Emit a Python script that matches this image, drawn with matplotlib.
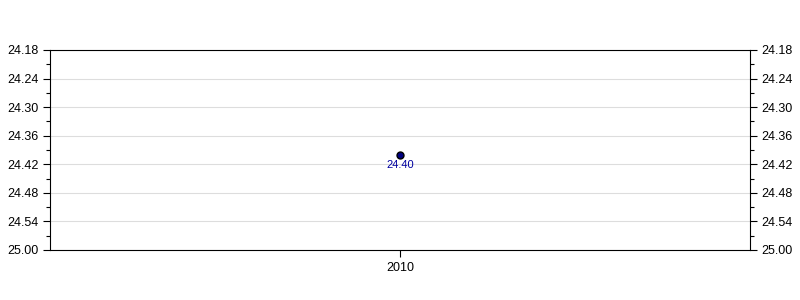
import matplotlib
matplotlib.use("Agg")
import matplotlib.pyplot as plt
from matplotlib.ticker import FixedLocator

plt.rcParams["font.family"] = ["Liberation Sans", "DejaVu Sans"]

# Dados
years = ["2010"]
values = [24.40]
y_ticks = [24.18, 24.24, 24.30, 24.36, 24.42, 24.48, 24.54, 24.60]
y_labels = ["24.18", "24.24", "24.30", "24.36", "24.42", "24.48", "24.54", "25.00"]
y_minor = [24.21, 24.27, 24.33, 24.39, 24.45, 24.51, 24.57]

fig = plt.figure(figsize=(8, 3), dpi=100)
ax = fig.add_axes([0.0625, 1 / 6, 0.875, 2 / 3])

x = list(range(len(years)))
ax.plot(x, values, "o", color="#000080", markeredgecolor="black", markersize=5, zorder=3)
for xi, v in zip(x, values):
    ax.annotate(f"{v:.2f}", (xi, v), xytext=(0, -4), textcoords="offset points",
                ha="center", va="top", fontsize=8, color="#0000a0")

ax.set_xlim(-1, 1)
ax.set_ylim(24.60, 24.18)  # eixo invertido
ax.set_xticks(x)
ax.set_xticklabels(years, fontsize=9)
ax.set_yticks(y_ticks)
ax.set_yticklabels(y_labels, fontsize=9)
ax.yaxis.set_minor_locator(FixedLocator(y_minor))
ax.tick_params(axis="y", which="both", left=True, right=True, labelleft=True, labelright=True)
ax.tick_params(axis="y", which="major", length=5, width=0.8)
ax.tick_params(axis="y", which="minor", length=3, width=0.8)
ax.tick_params(axis="x", length=5, width=0.8)
ax.grid(axis="y", color="#dddddd", linewidth=0.8)
ax.set_axisbelow(True)

fig.savefig("out.png", dpi=100)
